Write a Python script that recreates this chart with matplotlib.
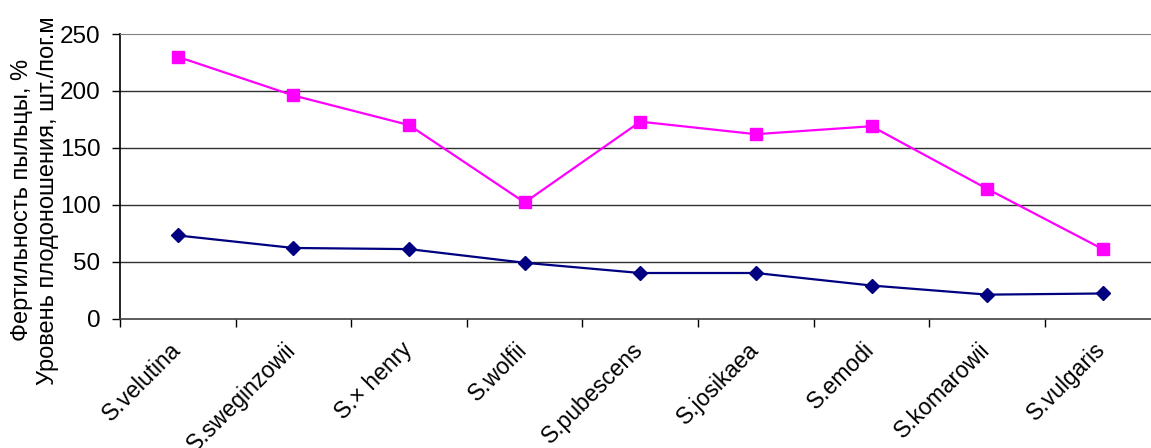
import matplotlib.pyplot as plt
import matplotlib.transforms as mtransforms
import numpy as np

plt.rcParams['font.family'] = ['Liberation Sans', 'DejaVu Sans']

species = ['S.velutina', 'S.sweginzowii', 'S.× henry', 'S.wolfii', 'S.pubescens',
           'S.josikaea', 'S.emodi', 'S.komarowii', 'S.vulgaris']
fruiting = [230, 196, 170, 102, 173, 162, 169, 114, 61]   # magenta, squares
fertility = [73, 62, 61, 49, 40, 40, 29, 21, 22]           # navy, diamonds
y_ticks = [0, 50, 100, 150, 200, 250]

fig = plt.figure(figsize=(11.51, 4.48), dpi=100)
ax = fig.add_axes([0.1043, 0.289, 0.904, 0.635])

x = np.arange(len(species))
ax.plot(x, fruiting, color='#FF00FF', lw=1.6, marker='s', ms=9, zorder=3)
ax.plot(x, fertility, color='#000080', lw=1.6, marker='D', ms=7, zorder=3)

ax.set_xlim(-0.5, len(species) - 0.5)
ax.set_ylim(0, 250)
ax.set_yticks(y_ticks)
ax.set_yticklabels([str(v) for v in y_ticks], fontsize=17.5)
for v in y_ticks[1:-1]:
    ax.axhline(v, color='#303030', lw=1, zorder=1)

# category ticks sit between the labels
ax.set_xticks(x)
ax.set_xticklabels(species, fontsize=16.5, rotation=45, ha='right', rotation_mode='anchor')
ax.tick_params(axis='x', length=0, pad=14)
shift = mtransforms.ScaledTranslation(-0.09, 0.0, fig.dpi_scale_trans)
for lbl in ax.get_xticklabels():
    lbl.set_transform(lbl.get_transform() + shift)
ax.set_xticks(np.arange(-0.5, len(species)), minor=True)
ax.tick_params(axis='x', which='minor', length=5.5, width=1, direction='out')
ax.tick_params(axis='y', length=6, width=1, direction='out', pad=8)

ax.spines['top'].set_color('#808080')
ax.spines['right'].set_visible(False)
ax.spines['left'].set_linewidth(1.2)
ax.spines['bottom'].set_linewidth(1.2)
ax.spines['bottom'].set_color('#404040')

fig.text(0.0195, 0.553, 'Фертильность пыльцы, %', rotation=90, fontsize=17,
         ha='center', va='center')
fig.text(0.0415, 0.553, 'Уровень плодоношения, шт./пог.м', rotation=90, fontsize=17,
         ha='center', va='center')

plt.savefig('out.png', dpi=100)
